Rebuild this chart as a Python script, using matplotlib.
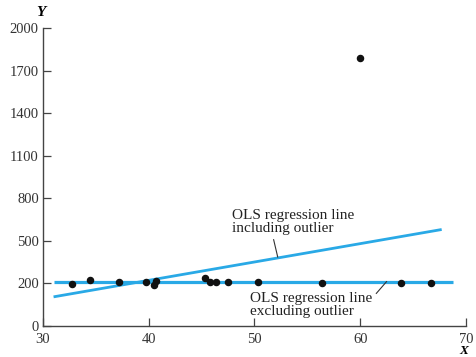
import numpy as np
import matplotlib.pyplot as plt

plt.rcParams['font.family'] = ['Liberation Serif', 'DejaVu Serif']

# observations (the last one is the outlier)
x_obs = [32.7, 34.4, 37.2, 39.7, 40.5, 40.7, 45.3, 45.8, 46.4, 47.5, 50.3, 56.4, 63.9, 66.7, 60.0]
y_obs = [198, 223, 207, 207, 195, 216, 235, 209, 209, 209, 209, 200, 200, 200, 1790]

# fitted lines, endpoints
x_fit_incl = [31.0, 67.7]
y_fit_incl = [137, 580]
x_fit_excl = [31.0, 68.8]
y_fit_excl = [212, 212]

y_ticks = [0, 200, 500, 800, 1100, 1400, 1700, 2000]
x_ticks = [30, 40, 50, 60, 70]


# y axis: 0-200 gets the same space as each 300 step above it
def fwd(y):
    y = np.asarray(y, dtype=float)
    return np.where(y < 200, y / 200.0, 1 + (y - 200) / 300.0)


def inv(t):
    t = np.asarray(t, dtype=float)
    return np.where(t < 1, t * 200.0, 200 + (t - 1) * 300.0)


fig = plt.figure(figsize=(4.76, 3.57), dpi=100)
ax = fig.add_axes([0.0903, 0.0868, 0.8887, 0.8348])
ax.set_yscale('function', functions=(fwd, inv))

blue = '#29a9e6'
ax.plot(x_fit_excl, y_fit_excl, color=blue, lw=2.3, solid_capstyle='butt', zorder=2)
ax.plot(x_fit_incl, y_fit_incl, color=blue, lw=2.0, solid_capstyle='butt', zorder=2)
ax.plot(x_obs, y_obs, 'o', color='#111111', ms=4.4, zorder=3)

ax.set_xlim(30, 70)
ax.set_ylim(0, 2000)
ax.set_xticks(x_ticks)
ax.set_yticks(y_ticks)
ax.set_xticklabels([str(v) for v in x_ticks])
ax.set_yticklabels([str(v) for v in y_ticks])
ax.tick_params(direction='in', length=6, width=0.9, color='#444444',
               labelsize=10.5, labelcolor='#333333')
ax.tick_params(axis='y', pad=3)
ax.tick_params(axis='x', pad=5)
ax.minorticks_off()
for s in ['top', 'right']:
    ax.spines[s].set_visible(False)
for s in ['left', 'bottom']:
    ax.spines[s].set_color('#444444')
    ax.spines[s].set_linewidth(1.0)

fig.text(41 / 476, 1 - 13 / 357, 'Y', fontsize=11,
         fontweight='bold', fontstyle='italic', ha='center', va='center')
fig.text(464 / 476, 0.5 / 357, 'X', fontsize=9.5,
         fontweight='bold', fontstyle='italic', ha='center', va='bottom')

# callouts
ax.annotate('OLS regression line\nincluding outlier', xy=(52.2, 385),
            xytext=(47.9, 632), fontsize=11, color='#222222',
            ha='left', va='center', linespacing=1.05,
            arrowprops=dict(arrowstyle='-', color='#333333', lw=0.8,
                            shrinkA=1, shrinkB=0, relpos=(0.33, 0.0)))
ax.annotate('OLS regression line\nexcluding outlier', xy=(62.5, 214),
            xytext=(49.6, 99), fontsize=11, color='#222222',
            ha='left', va='center', linespacing=1.05,
            arrowprops=dict(arrowstyle='-', color='#333333', lw=0.8,
                            shrinkA=1, shrinkB=0, relpos=(1.0, 0.77)))

fig.savefig('out.png', dpi=100)
